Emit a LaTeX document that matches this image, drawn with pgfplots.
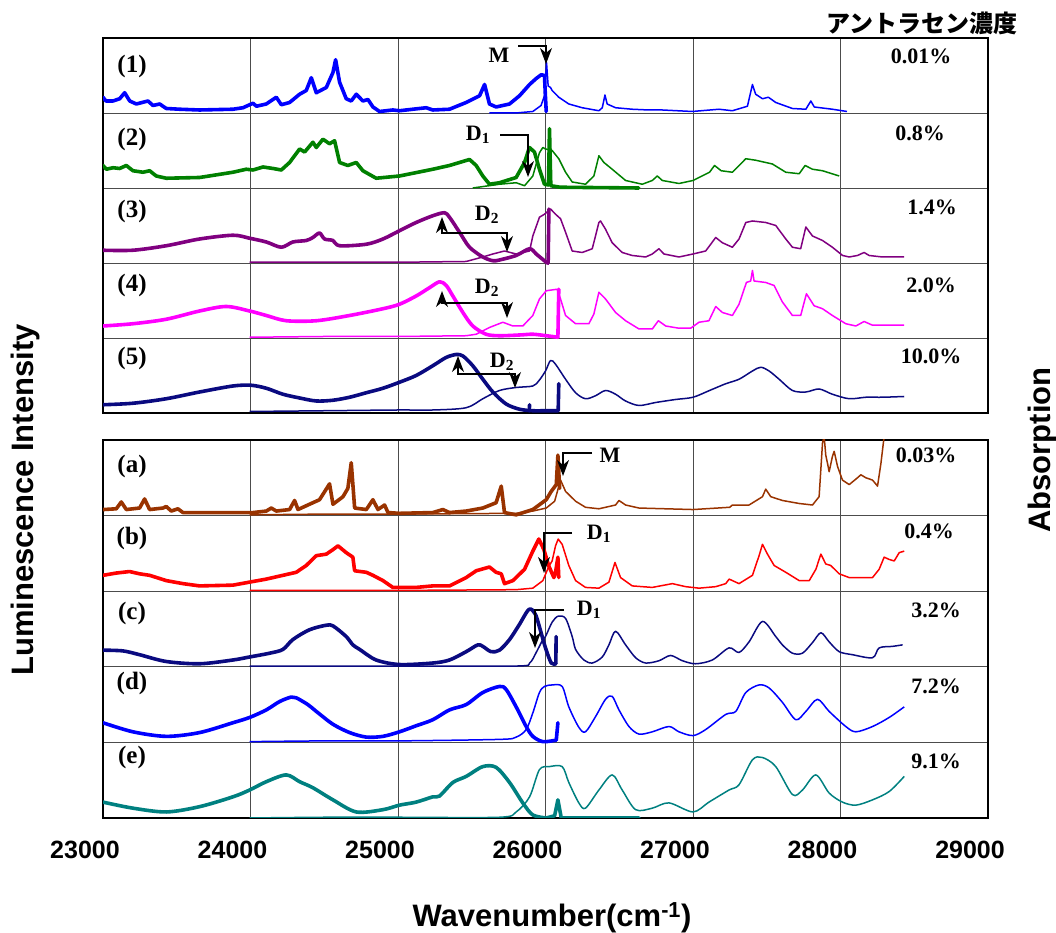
\documentclass[border=0pt]{standalone}
\usepackage{pgfplots}
\pgfplotsset{compat=1.18}
\usetikzlibrary{arrows.meta}
\usepackage{fontspec}
\setmainfont{Liberation Serif}
\setsansfont{Liberation Sans}
\newfontfamily\cjk{Noto Sans CJK JP}

\definecolor{cgreen}{RGB}{0,128,0}
\definecolor{cpurple}{RGB}{128,0,128}
\definecolor{cmag}{RGB}{255,0,255}
\definecolor{cnavy}{RGB}{10,10,128}
\definecolor{cbrown}{RGB}{153,51,0}
\definecolor{cred}{RGB}{255,0,0}
\definecolor{cblue}{RGB}{0,0,255}
\definecolor{cteal}{RGB}{0,128,128}

\pgfplotsset{
  panel/.style={
    anchor=south west, scale only axis, width=885pt,
    xmin=23000, xmax=29000, ymin=0, ymax=5,
    ytick={1,2,3,4}, yticklabels={},
    scaled x ticks=false, scaled y ticks=false,
    grid=major, major grid style={black!70, line width=0.9pt},
    tick style={draw=none},
    axis line style={line width=2.8pt},
  },
  lum/.style={line width=3.6pt, line join=round, line cap=round, no markers},
  ab/.style={line width=1.5pt, line join=round, no markers},
  sm/.style={smooth, tension=0.5},
  row0/.style={y filter/.expression={y/100}},
  row1/.style={y filter/.expression={y/100+1}},
  row2/.style={y filter/.expression={y/100+2}},
  row3/.style={y filter/.expression={y/100+3}},
  row4/.style={y filter/.expression={y/100+4}},
}
\tikzset{
  lbl/.style={font=\rmfamily\bfseries\fontsize{25}{27}\selectfont},
  conc/.style={font=\rmfamily\bfseries\fontsize{22}{24}\selectfont},
  arr/.style={line width=1.3pt, -{Stealth[length=16pt,width=12pt,inset=5pt]}},
  darr/.style={line width=1.3pt, {Stealth[length=16pt,width=12pt,inset=5pt]}-{Stealth[length=16pt,width=12pt,inset=5pt]}},
}

\begin{document}
\begin{tikzpicture}[x=1pt,y=1pt]
\useasboundingbox (0pt,0pt) rectangle (1056pt,933pt);

% ---------------- top panel: (1)-(5)
\begin{axis}[panel, at={(103pt,520pt)}, height=375pt,
  xtick={24000,25000,26000,27000,28000}, xticklabels={}]
% (1) 0.01%
\addplot[lum, cblue, row4] coordinates {
(23000,21) (23020,16) (23068,16) (23113,19) (23147,27) (23181,16) (23226,12) (23305,16) (23339,10) (23384,12) (23429,6) (23520,5) (23655,4) (23881,5) (23949,7) (24017,13) (24040,9) (24107,12) (24175,21) (24209,11) (24265,14) (24333,25) (24378,30) (24412,47) (24446,27) (24514,34) (24559,54) (24577,71) (24604,41) (24649,19) (24683,16) (24717,25) (24762,16) (24796,18) (24830,8) (24875,2) (24965,4) (25010,3) (25191,7) (25236,4) (25349,5) (25462,14) (25553,23) (25587,38) (25620,12) (25665,8) (25756,12) (25824,23) (25892,38) (25937,46) (25971,51) (25993,50) (26000,20) (26005,2)
};
\addplot[ab, cblue, row4] coordinates {
(25620,0) (25800,0) (25914,2) (25970,10) (25993,23) (26007,67) (26018,36) (26034,34) (26045,30) (26090,21) (26158,12) (26249,7) (26362,3) (26385,7) (26403,24) (26418,12) (26475,7) (26588,5) (26700,4) (26792,4) (26995,2) (27176,5) (27267,3) (27369,9) (27403,38) (27425,25) (27471,19) (27511,21) (27561,14) (27674,6) (27765,5) (27799,16) (27822,8) (27945,5) (28044,2)
};
% (2) 0.8%
\addplot[lum, cgreen, row3] coordinates {
(23000,30) (23023,25) (23068,27) (23113,26) (23158,30) (23203,23) (23271,21) (23316,23) (23361,16) (23429,13) (23655,14) (23881,21) (23971,25) (24017,24) (24085,28) (24153,26) (24209,24) (24265,34) (24333,52) (24367,48) (24423,61) (24446,54) (24491,65) (24536,59) (24570,63) (24604,34) (24660,30) (24717,34) (24762,23) (24852,13) (25010,16) (25236,25) (25349,30) (25485,38) (25530,30) (25575,16) (25620,5) (25688,7) (25801,14) (25858,34) (25891,54) (25925,48) (25959,25) (25993,5) (26020,4) (26027,79) (26036,3) (26100,1) (26633,0)
};
\addplot[ab, cgreen, row3] coordinates {
(25507,0) (25688,5) (25801,7) (25858,3) (25914,16) (25959,47) (25982,54) (26000,52) (26045,50) (26090,39) (26136,21) (26181,8) (26271,5) (26328,16) (26362,43) (26396,34) (26452,25) (26543,10) (26656,5) (26724,10) (26758,16) (26792,10) (26905,6) (27000,10) (27112,21) (27146,30) (27191,23) (27267,21) (27358,39) (27425,37) (27538,32) (27629,21) (27720,19) (27760,30) (27810,25) (27878,23) (27991,16)
};
% (3) 1.4%
\addplot[lum, sm, cpurple, row2] coordinates {
(23000,17) (23203,17) (23429,23) (23655,32) (23881,37) (23994,33) (24107,28) (24209,21) (24287,28) (24378,30) (24423,34) (24468,40) (24502,32) (24559,30) (24604,23) (24785,25) (24898,32) (25010,43) (25123,54) (25236,63) (25315,67) (25349,61) (25417,41) (25485,21) (25575,8) (25643,3) (25688,4) (25801,10) (25892,19) (25937,12) (26005,1) (26018,0)
};
\addplot[lum, cpurple, row2] coordinates {(26018,0) (26023,72)};
\addplot[ab, cpurple, row2] coordinates {
(23994,1) (24500,1) (25000,1) (25462,2) (25575,8) (25643,12) (25722,16) (25801,12) (25870,15) (25892,16) (25914,36) (25959,61) (25993,65) (26034,72) (26068,65) (26102,59) (26136,41) (26181,16) (26249,14) (26317,19) (26362,54) (26373,56) (26407,45) (26452,27) (26520,14) (26588,10) (26679,8) (26724,12) (26769,19) (26803,12) (26905,8) (27000,12) (27086,16) (27154,34) (27199,27) (27267,21) (27312,32) (27358,54) (27403,56) (27493,54) (27561,50) (27629,32) (27674,21) (27730,19) (27765,48) (27810,36) (27878,30) (27945,21) (28014,10) (28059,8) (28115,10) (28160,14) (28194,10) (28285,8) (28432,8)
};
% (4) 2.0%
\addplot[lum, sm, cmag, row1] coordinates {
(23000,16) (23203,19) (23429,25) (23655,36) (23835,42) (23994,36) (24107,30) (24243,23) (24446,23) (24672,30) (24898,39) (25010,45) (25123,56) (25213,67) (25282,75) (25327,70) (25372,56) (25440,34) (25507,16) (25597,5) (25688,3) (25824,4) (25914,5) (26005,3) (26084,1)
};
\addplot[lum, cmag, row1] coordinates {(26084,1) (26090,65)};
\addplot[ab, cmag, row1] coordinates {
(23994,1) (24500,2) (25000,2) (25462,3) (25530,5) (25620,14) (25711,21) (25779,16) (25846,16) (25914,30) (25959,52) (26005,63) (26079,65) (26102,52) (26136,30) (26204,19) (26294,19) (26328,32) (26362,61) (26407,52) (26475,34) (26543,23) (26634,12) (26724,12) (26765,23) (26815,16) (26905,13) (26984,13) (27041,21) (27108,23) (27154,42) (27199,34) (27267,30) (27312,45) (27362,74) (27391,76) (27403,90) (27414,76) (27493,74) (27550,70) (27606,48) (27674,30) (27730,30) (27769,59) (27821,43) (27878,39) (27945,30) (28036,19) (28104,16) (28160,22) (28217,17) (28432,17)
};
% (5) 10.0%
\addplot[lum, sm, cnavy, row0] coordinates {
(23000,11) (23203,13) (23429,19) (23655,28) (23881,36) (24003,37) (24107,33) (24220,25) (24333,20) (24446,16) (24559,17) (24672,21) (24785,27) (24898,33) (25010,41) (25123,50) (25236,63) (25326,74) (25395,78) (25440,76) (25507,63) (25575,45) (25643,28) (25733,12) (25824,5) (25914,3) (26000,3) (26086,3)
};
\addplot[lum, cnavy, row0] coordinates {(25890,3) (25892,11)};
\addplot[lum, cnavy, row0] coordinates {(26086,3) (26090,39)};
\addplot[ab, sm, cnavy, row0] coordinates {
(23994,2) (24500,3) (25000,4) (25236,4) (25462,7) (25575,19) (25688,30) (25801,34) (25914,36) (25955,43) (26000,56) (26034,70) (26068,65) (26136,45) (26204,27) (26271,19) (26339,23) (26407,30) (26475,25) (26543,16) (26634,10) (26747,14) (26882,18) (27000,21) (27112,30) (27222,39) (27312,45) (27403,56) (27459,61) (27516,56) (27584,45) (27674,30) (27765,28) (27855,32) (27945,25) (28059,19) (28172,21) (28285,21) (28432,22)
};
\end{axis}

% ---------------- bottom panel: (a)-(e)
\begin{axis}[panel, at={(103pt,115pt)}, height=378pt,
  xtick={23000,24000,...,29000},
  xticklabels={23000,24000,25000,26000,27000,28000,29000},
  xticklabel style={font=\sffamily\bfseries\fontsize{25}{25}\selectfont, xshift=-18pt, yshift=-20pt}]
% (a) 0.03%
\addplot[lum, cbrown, row4] coordinates {
(23000,8) (23090,9) (23124,18) (23158,8) (23248,10) (23282,22) (23316,8) (23407,10) (23429,12) (23463,6) (23508,9) (23542,4) (23655,4) (23881,4) (24017,4) (24107,6) (24141,10) (24175,6) (24265,8) (24299,20) (24322,8) (24400,15) (24468,21) (24536,42) (24559,15) (24627,25) (24660,36) (24683,70) (24706,10) (24785,8) (24830,21) (24864,8) (24909,14) (24932,4) (25010,3) (25236,4) (25304,8) (25349,4) (25462,6) (25575,10) (25665,17) (25700,39) (25722,4) (25801,1) (25914,8) (26005,21) (26039,32) (26073,41) (26084,80) (26096,36)
};
\addplot[ab, cbrown, row4] coordinates {
(23994,1) (24500,2) (25000,2) (25801,3) (25914,6) (26005,10) (26062,19) (26102,47) (26136,32) (26204,19) (26271,11) (26362,9) (26475,14) (26498,20) (26543,14) (26634,10) (26815,9) (27000,8) (27249,11) (27267,14) (27380,14) (27471,25) (27493,35) (27527,25) (27606,20) (27720,16) (27810,14) (27855,25) (27878,96) (27889,105) (27900,80) (27912,69) (27923,58) (27945,78) (27957,85) (27980,65) (28013,47) (28059,41) (28115,50) (28138,54) (28172,50) (28217,47) (28251,39) (28274,69) (28296,105) (28300,110)
};
% (b) 0.4%
\addplot[lum, cred, row3] coordinates {
(23000,21) (23090,24) (23180,26) (23248,23) (23316,21) (23429,14) (23542,10) (23655,7) (23881,8) (23994,12) (24107,16) (24220,21) (24310,25) (24378,34) (24446,47) (24514,49) (24559,55) (24593,60) (24649,51) (24694,45) (24706,27) (24785,25) (24830,21) (24898,14) (24965,5) (25123,5) (25236,7) (25349,7) (25462,18) (25530,27) (25620,32) (25665,25) (25700,23) (25722,10) (25779,14) (25858,29) (25914,53) (25955,69) (25989,55) (26023,33) (26057,18) (26068,25) (26084,45) (26090,18)
};
\addplot[ab, cred, row3] coordinates {
(23994,1) (24500,1) (25000,1) (25801,2) (25914,4) (25982,14) (26023,33) (26045,40) (26068,60) (26086,69) (26113,62) (26158,34) (26204,14) (26271,5) (26362,4) (26430,12) (26471,38) (26509,18) (26588,7) (26724,5) (26860,10) (26950,6) (27041,4) (27154,6) (27222,10) (27245,16) (27312,10) (27403,21) (27448,47) (27471,62) (27505,49) (27550,34) (27629,25) (27720,14) (27788,14) (27833,29) (27867,49) (27900,36) (27934,34) (27991,23) (28059,18) (28217,18) (28262,29) (28296,45) (28330,42) (28364,40) (28398,51) (28432,53)
};
% (c) 3.2%
\addplot[lum, sm, cnavy, row2] coordinates {
(23000,22) (23136,21) (23248,16) (23429,7) (23655,4) (23881,9) (23994,13) (24130,18) (24220,23) (24287,36) (24400,49) (24514,55) (24560,54) (24649,40) (24694,29) (24740,23) (24852,9) (25010,3) (25236,5) (25349,9) (25462,20) (25541,29) (25575,27) (25631,20) (25688,22) (25756,36) (25820,55) (25888,76) (25930,70) (25960,52) (26000,25) (26039,5) (26070,4)
};
\addplot[lum, cnavy, row2] coordinates {(26070,4) (26072,40)};
\addplot[ab, sm, cnavy, row2] coordinates {
(23994,1) (24500,1) (25000,1) (25800,1) (25892,5) (25937,19) (25982,36) (26000,40) (26045,59) (26086,67) (26136,64) (26181,40) (26204,23) (26260,9) (26317,5) (26385,13) (26430,29) (26475,47) (26543,29) (26611,12) (26679,5) (26769,8) (26848,15) (26928,8) (27018,4) (27131,9) (27244,25) (27312,19) (27380,33) (27471,60) (27561,40) (27606,29) (27674,18) (27742,18) (27810,32) (27867,45) (27923,33) (27991,20) (28081,16) (28217,12) (28262,25) (28352,27) (28421,29)
};
% (d) 7.2%
\addplot[lum, sm, cblue, row1] coordinates {
(23000,26) (23203,14) (23429,8) (23655,13) (23881,26) (23994,33) (24107,43) (24197,54) (24276,60) (24310,59) (24389,50) (24446,41) (24559,24) (24672,13) (24785,7) (24898,8) (25010,14) (25123,22) (25236,30) (25349,43) (25462,50) (25575,66) (25688,74) (25733,70) (25801,47) (25869,21) (25914,8) (25982,1) (26073,3)
};
\addplot[lum, cblue, row1] coordinates {(26073,3) (26084,26)};
\addplot[ab, sm, cblue, row1] coordinates {
(23994,1) (24500,2) (25000,2) (25688,4) (25801,7) (25869,17) (25914,39) (25959,66) (25993,74) (26045,76) (26113,74) (26158,47) (26226,20) (26271,14) (26339,34) (26407,57) (26452,61) (26498,43) (26566,21) (26634,11) (26724,14) (26837,21) (26905,14) (27000,9) (27086,17) (27222,37) (27290,41) (27358,66) (27448,76) (27516,72) (27606,53) (27697,30) (27765,41) (27844,57) (27923,41) (28036,21) (28104,14) (28217,21) (28330,33) (28432,47)
};
% (e) 9.1%
\addplot[lum, sm, cteal, row0] coordinates {
(23000,21) (23203,13) (23429,8) (23655,15) (23881,28) (23994,37) (24107,48) (24242,57) (24333,48) (24423,40) (24559,24) (24717,8) (24898,11) (25010,17) (25123,21) (25236,28) (25281,29) (25372,47) (25462,55) (25575,68) (25665,67) (25756,47) (25846,20) (25914,4) (26005,0)
};
\addplot[lum, cteal, row0] coordinates {(26005,0) (26062,3) (26084,24) (26107,0) (26634,0)};
\addplot[ab, sm, cteal, row0] coordinates {
(23994,0) (24500,1) (25000,1) (25688,1) (25801,8) (25892,28) (25959,64) (26027,68) (26113,68) (26158,47) (26226,20) (26271,13) (26362,37) (26452,57) (26520,37) (26611,11) (26724,13) (26837,20) (27000,8) (27108,21) (27244,37) (27312,44) (27403,77) (27471,80) (27561,68) (27674,31) (27742,37) (27833,57) (27923,33) (28013,21) (28104,17) (28217,24) (28330,35) (28432,55)
};
\end{axis}

% panel labels
\node[lbl] at (132,866) {(1)};
\node[lbl] at (132,793) {(2)};
\node[lbl] at (132,721) {(3)};
\node[lbl] at (132,648) {(4)};
\node[lbl] at (132,575) {(5)};
\node[lbl] at (132,467) {(a)};
\node[lbl] at (132,395) {(b)};
\node[lbl] at (132,320) {(c)};
\node[lbl] at (132,250) {(d)};
\node[lbl] at (132,176) {(e)};

% concentrations
\node[conc] at (921,877) {0.01\%};
\node[conc] at (920,800) {0.8\%};
\node[conc] at (932,726) {1.4\%};
\node[conc] at (931,648) {2.0\%};
\node[conc] at (931,577) {10.0\%};
\node[conc] at (926,478) {0.03\%};
\node[conc] at (929,402) {0.4\%};
\node[conc] at (936,323) {3.2\%};
\node[conc] at (936,247) {7.2\%};
\node[conc] at (936,172) {9.1\%};

% band markers
\node[conc] at (499,878) {M};
\draw[arr] (518,887) -- (546,887) -- (546,869);
\node[conc] at (478,798) {D\textsubscript{1}};
\draw[arr] (500,798) -- (528,798) -- (528,756);
\node[conc] at (487,718) {D\textsubscript{2}};
\draw[darr] (442,716) -- (442,700) -- (507,700) -- (507,681);
\node[conc] at (487,645) {D\textsubscript{2}};
\draw[darr] (442,642) -- (442,630) -- (507,630) -- (507,615);
\node[conc] at (502,571) {D\textsubscript{2}};
\draw[darr] (458,577) -- (458,559) -- (515,559) -- (515,545);
\node[conc] at (610,478) {M};
\draw[arr] (592,480) -- (563,480) -- (563,457);
\node[conc] at (599,399) {D\textsubscript{1}};
\draw[arr] (572,400) -- (544,400) -- (544,360);
\node[conc] at (589,323) {D\textsubscript{1}};
\draw[arr] (564,323) -- (535,323) -- (535,285);

% titles
\node[font=\cjk\bfseries\fontsize{24}{26}\selectfont] at (922,910) {アントラセン濃度};
\node[font=\sffamily\bfseries\fontsize{31}{33}\selectfont, anchor=base] at (552,6) {Wavenumber(cm\textsuperscript{-1})};
\node[font=\sffamily\bfseries\fontsize{31}{33}\selectfont, rotate=90, anchor=base] at (33,433) {Luminescence Intensity};
\node[font=\sffamily\bfseries\fontsize{31}{33}\selectfont, rotate=90, anchor=base] at (1050,483) {Absorption};
\end{tikzpicture}
\end{document}
